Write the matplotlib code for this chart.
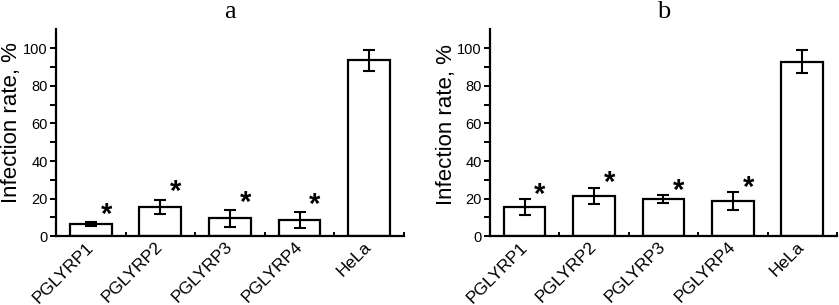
import matplotlib.pyplot as plt
import numpy as np

plt.rcParams['font.family'] = ['Liberation Sans', 'DejaVu Sans']

groups = ["PGLYRP1", "PGLYRP2", "PGLYRP3", "PGLYRP4", "HeLa"]

rate_a = [6.5, 15.7, 9.5, 8.6, 93.6]
err_a = [0.9, 3.7, 4.5, 4.3, 5.5]
rate_b = [15.5, 21.5, 19.7, 18.8, 92.8]
err_b = [4.2, 4.3, 2.2, 4.7, 6.0]
signif = [True, True, True, True, False]

fig = plt.figure(figsize=(8.39, 3.05), dpi=100)
ax_a = fig.add_axes([0.0667, 0.2252, 0.4148, 0.6787])
ax_b = fig.add_axes([0.5840, 0.2252, 0.4136, 0.6787])


def draw_panel(ax, vals, errs, title, star_gap, label_x, label_y):
    x = np.arange(1, len(groups) + 1)
    ax.bar(x, vals, width=0.6, color="white", edgecolor="black", linewidth=1.6)
    ax.errorbar(x, vals, yerr=errs, fmt="none", ecolor="black",
                elinewidth=1.5, capsize=4, capthick=1.5)
    for xi, v, e, s in zip(x, vals, errs, signif):
        if s:
            ax.text(xi + 0.22, v + e + star_gap, "*", ha="center", va="center",
                    fontsize=21, fontweight="bold")

    ax.set_xlim(0.5, 5.5)
    ax.set_ylim(0, 110)
    ax.set_yticks(np.arange(0, 101, 20))
    ax.set_yticks(np.arange(10, 110, 20), minor=True)
    ax.set_xticks(x)
    ax.set_xticks(np.arange(1.5, 6, 1), minor=True)
    ax.set_xticklabels(groups, rotation=45, ha="right", va="center",
                       rotation_mode="anchor", fontsize=12.5)

    for side in ("top", "right"):
        ax.spines[side].set_visible(False)
    for side in ("left", "bottom"):
        ax.spines[side].set_linewidth(1.6)

    ax.tick_params(axis="y", which="major", direction="out", length=4,
                   width=1.4, labelsize=10.5, pad=2)
    ax.tick_params(axis="y", which="minor", direction="out", length=4, width=1.4)
    ax.tick_params(axis="x", which="major", length=0, pad=6)
    ax.tick_params(axis="x", which="minor", direction="in", length=3, width=1.4)

    ax.set_ylabel("Infection rate, %", fontsize=16)
    ax.yaxis.set_label_coords(label_x, label_y)
    ax.set_title(title, fontsize=19, family="Liberation Serif", pad=8)


draw_panel(ax_a, rate_a, err_a, "a", 4.0, -0.097, 0.55)
draw_panel(ax_b, rate_b, err_b, "b", 2.4, -0.096, 0.54)

fig.savefig("out.png", dpi=100)
